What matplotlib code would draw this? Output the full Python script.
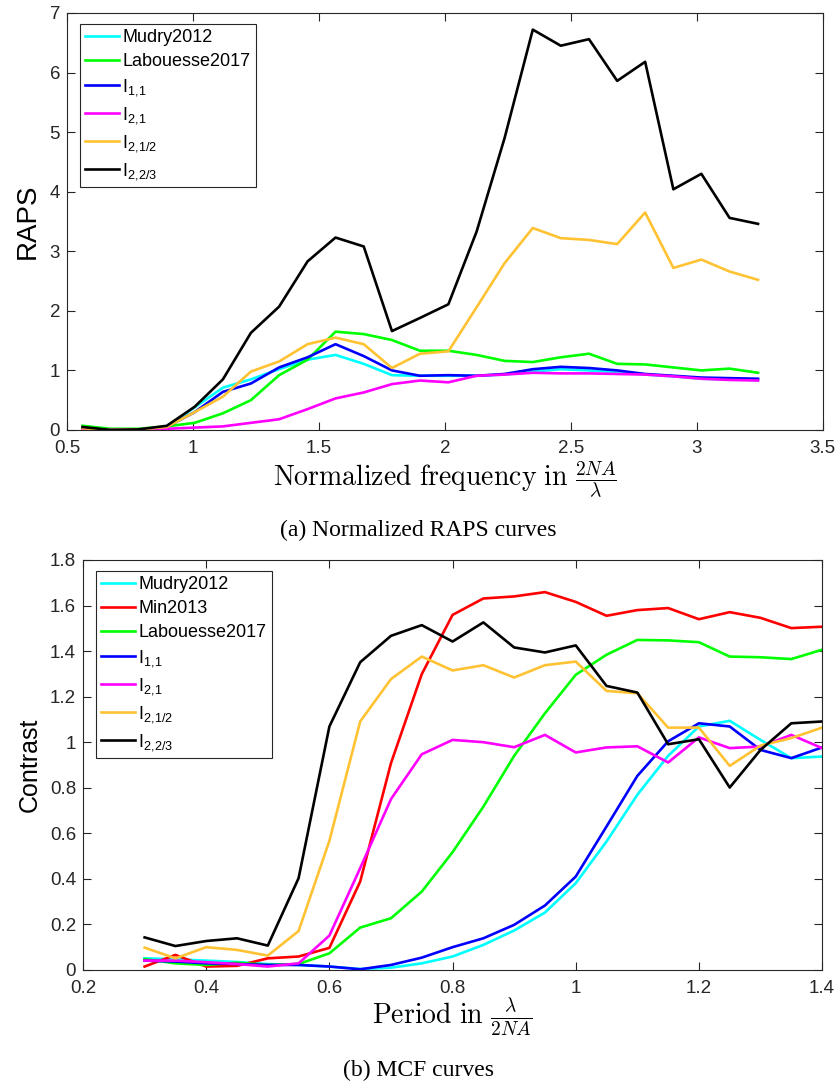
import numpy as np
import matplotlib
matplotlib.use('Agg')
from matplotlib import pyplot as plt
from matplotlib.ticker import FormatStrFormatter

plt.rcParams['font.family'] = ['Liberation Sans', 'DejaVu Sans']
plt.rcParams['mathtext.fontset'] = 'cm'

# (a) RAPS curves
freq = [0.562, 0.673, 0.785, 0.896, 1.007, 1.119, 1.230, 1.342, 1.455, 1.566,
        1.678, 1.790, 1.901, 2.014, 2.126, 2.237, 2.349, 2.460, 2.572, 2.684,
        2.795, 2.907, 3.018, 3.130, 3.243]
raps_mudry = [0.03, 0.00, 0.01, 0.05, 0.38, 0.71, 0.85, 1.02, 1.18, 1.26,
              1.11, 0.92, 0.91, 0.91, 0.91, 0.93, 0.98, 1.02, 1.00, 0.97,
              0.93, 0.90, 0.86, 0.85, 0.84]
raps_labouesse = [0.07, 0.02, 0.02, 0.06, 0.12, 0.28, 0.50, 0.92, 1.18, 1.65,
                  1.61, 1.51, 1.33, 1.33, 1.26, 1.16, 1.14, 1.22, 1.28, 1.11,
                  1.10, 1.05, 1.00, 1.03, 0.96]
raps_i11 = [0.03, 0.00, 0.01, 0.05, 0.30, 0.64, 0.78, 1.05, 1.22, 1.44,
            1.24, 1.00, 0.91, 0.92, 0.91, 0.94, 1.02, 1.06, 1.04, 1.00,
            0.94, 0.91, 0.88, 0.87, 0.86]
raps_i21 = [0.02, 0.00, 0.01, 0.02, 0.04, 0.06, 0.12, 0.18, 0.35, 0.53,
            0.63, 0.77, 0.83, 0.80, 0.91, 0.93, 0.96, 0.95, 0.95, 0.94,
            0.93, 0.90, 0.86, 0.84, 0.83]
raps_i2_12 = [0.03, 0.00, 0.01, 0.05, 0.30, 0.56, 0.98, 1.15, 1.44, 1.55,
              1.44, 1.04, 1.28, 1.32, 2.06, 2.80, 3.39, 3.22, 3.19, 3.12,
              3.65, 2.72, 2.86, 2.66, 2.52]
raps_i2_23 = [0.05, 0.00, 0.01, 0.07, 0.39, 0.85, 1.63, 2.07, 2.83, 3.23,
              3.08, 1.66, 1.88, 2.11, 3.33, 4.90, 6.72, 6.45, 6.56, 5.86,
              6.18, 4.04, 4.30, 3.56, 3.46]

# (b) MCF curves
period = [0.30, 0.35, 0.40, 0.45, 0.50, 0.55, 0.60, 0.65, 0.70, 0.75, 0.80, 0.85,
          0.90, 0.95, 1.00, 1.05, 1.10, 1.15, 1.20, 1.25, 1.30, 1.35, 1.40]
mcf_mudry = [0.051, 0.047, 0.041, 0.035, 0.026, 0.022, 0.015, 0.004, 0.010, 0.029,
             0.059, 0.110, 0.173, 0.252, 0.381, 0.564, 0.769, 0.940, 1.069, 1.094,
             1.010, 0.930, 0.937]
mcf_min = [0.015, 0.066, 0.015, 0.018, 0.051, 0.059, 0.097, 0.388, 0.908, 1.299,
           1.559, 1.631, 1.640, 1.659, 1.616, 1.555, 1.580, 1.589, 1.540, 1.571,
           1.546, 1.501, 1.507]
mcf_labouesse = [0.048, 0.029, 0.022, 0.032, 0.022, 0.026, 0.073, 0.186, 0.227, 0.344,
                 0.517, 0.717, 0.940, 1.127, 1.296, 1.384, 1.449, 1.447, 1.439, 1.376,
                 1.373, 1.365, 1.406]
mcf_i11 = [0.041, 0.037, 0.029, 0.026, 0.022, 0.022, 0.015, 0.003, 0.022, 0.054,
           0.100, 0.139, 0.198, 0.283, 0.410, 0.630, 0.852, 1.004, 1.083, 1.069,
           0.966, 0.930, 0.977]
mcf_i21 = [0.041, 0.041, 0.034, 0.026, 0.015, 0.029, 0.151, 0.447, 0.750, 0.947,
           1.010, 1.000, 0.978, 1.032, 0.955, 0.977, 0.982, 0.911, 1.021, 0.974,
           0.981, 1.032, 0.974]
mcf_i2_12 = [0.098, 0.051, 0.100, 0.088, 0.063, 0.171, 0.567, 1.091, 1.277, 1.376,
             1.315, 1.338, 1.284, 1.338, 1.354, 1.225, 1.215, 1.064, 1.064, 0.896,
             0.985, 1.018, 1.064]
mcf_i2_23 = [0.143, 0.105, 0.127, 0.139, 0.107, 0.403, 1.069, 1.351, 1.467, 1.514,
             1.442, 1.526, 1.416, 1.394, 1.425, 1.247, 1.218, 0.991, 1.013, 0.801,
             0.966, 1.083, 1.091]

c_cyan = '#00FFFF'
c_red = '#FF0000'
c_green = '#00FF00'
c_blue = '#0000FF'
c_mag = '#FF00FF'
c_orange = '#FFC233'
c_black = '#000000'
lw = 1.9

# legend labels (MATLAB-style subscripts, no space after the comma)
lab_i11 = r'I$_{\mathregular{1{,}1}}$'
lab_i21 = r'I$_{\mathregular{2{,}1}}$'
lab_i2_12 = r'I$_{\mathregular{2{,}1/2}}$'
lab_i2_23 = r'I$_{\mathregular{2{,}2/3}}$'


def style_axes(ax):
    for sp in ax.spines.values():
        sp.set_color('#262626')
        sp.set_linewidth(0.8)
    ax.tick_params(direction='in', top=True, right=True, length=6,
                   labelsize=13.5, colors='#262626', width=0.8)
    ax.tick_params(axis='x', pad=7)
    ax.tick_params(axis='y', pad=5)
    ax.xaxis.set_major_formatter(FormatStrFormatter('%g'))
    ax.yaxis.set_major_formatter(FormatStrFormatter('%g'))


def add_legend(ax):
    leg = ax.legend(loc='upper left', fontsize=13, handlelength=1.9,
                    handletextpad=0.15, labelspacing=0.38, borderpad=0.3,
                    fancybox=False, framealpha=1, edgecolor='#262626',
                    bbox_to_anchor=(0.005, 0.995))
    leg.get_frame().set_linewidth(0.8)


fig = plt.figure(figsize=(8.37, 10.88), dpi=100)

ax1 = fig.add_axes([0.080, 0.6048, 0.903, 0.3833])
ax1.plot(freq, raps_mudry, color=c_cyan, lw=lw, label='Mudry2012')
ax1.plot(freq, raps_labouesse, color=c_green, lw=lw, label='Labouesse2017')
ax1.plot(freq, raps_i11, color=c_blue, lw=lw, label=lab_i11)
ax1.plot(freq, raps_i21, color=c_mag, lw=lw, label=lab_i21)
ax1.plot(freq, raps_i2_12, color=c_orange, lw=lw, label=lab_i2_12)
ax1.plot(freq, raps_i2_23, color=c_black, lw=lw, label=lab_i2_23)
ax1.set_xlim(0.5, 3.5)
ax1.set_ylim(0, 7)
ax1.set_xticks(np.arange(0.5, 3.51, 0.5))
ax1.set_yticks(np.arange(0, 8, 1))
style_axes(ax1)
ax1.set_ylabel('RAPS', fontsize=20, labelpad=6)
ax1.set_xlabel(r'$\mathrm{Normalized\ frequency\ in\ }\frac{2NA}{\lambda}$',
               fontsize=20, labelpad=2)
add_legend(ax1)

ax2 = fig.add_axes([0.0992, 0.1085, 0.883, 0.3768])
ax2.plot(period, mcf_mudry, color=c_cyan, lw=lw, label='Mudry2012')
ax2.plot(period, mcf_min, color=c_red, lw=lw, label='Min2013')
ax2.plot(period, mcf_labouesse, color=c_green, lw=lw, label='Labouesse2017')
ax2.plot(period, mcf_i11, color=c_blue, lw=lw, label=lab_i11)
ax2.plot(period, mcf_i21, color=c_mag, lw=lw, label=lab_i21)
ax2.plot(period, mcf_i2_12, color=c_orange, lw=lw, label=lab_i2_12)
ax2.plot(period, mcf_i2_23, color=c_black, lw=lw, label=lab_i2_23)
ax2.set_xlim(0.2, 1.4)
ax2.set_ylim(0, 1.8)
ax2.set_xticks(np.arange(0.2, 1.41, 0.2))
ax2.set_yticks(np.arange(0, 1.81, 0.2))
style_axes(ax2)
ax2.set_ylabel('Contrast', fontsize=18, labelpad=6)
ax2.set_xlabel(r'$\mathrm{Period\ in\ }\frac{\lambda}{2NA}$', fontsize=20, labelpad=0)
add_legend(ax2)

fig.text(0.5, 1 - 530 / 1088, '(a) Normalized RAPS curves', ha='center', va='center',
         fontsize=17, family=['Liberation Serif', 'DejaVu Serif'])
fig.text(0.5, 1 - 1070 / 1088, '(b) MCF curves', ha='center', va='center',
         fontsize=17, family=['Liberation Serif', 'DejaVu Serif'])

fig.savefig('out.png', dpi=100)
